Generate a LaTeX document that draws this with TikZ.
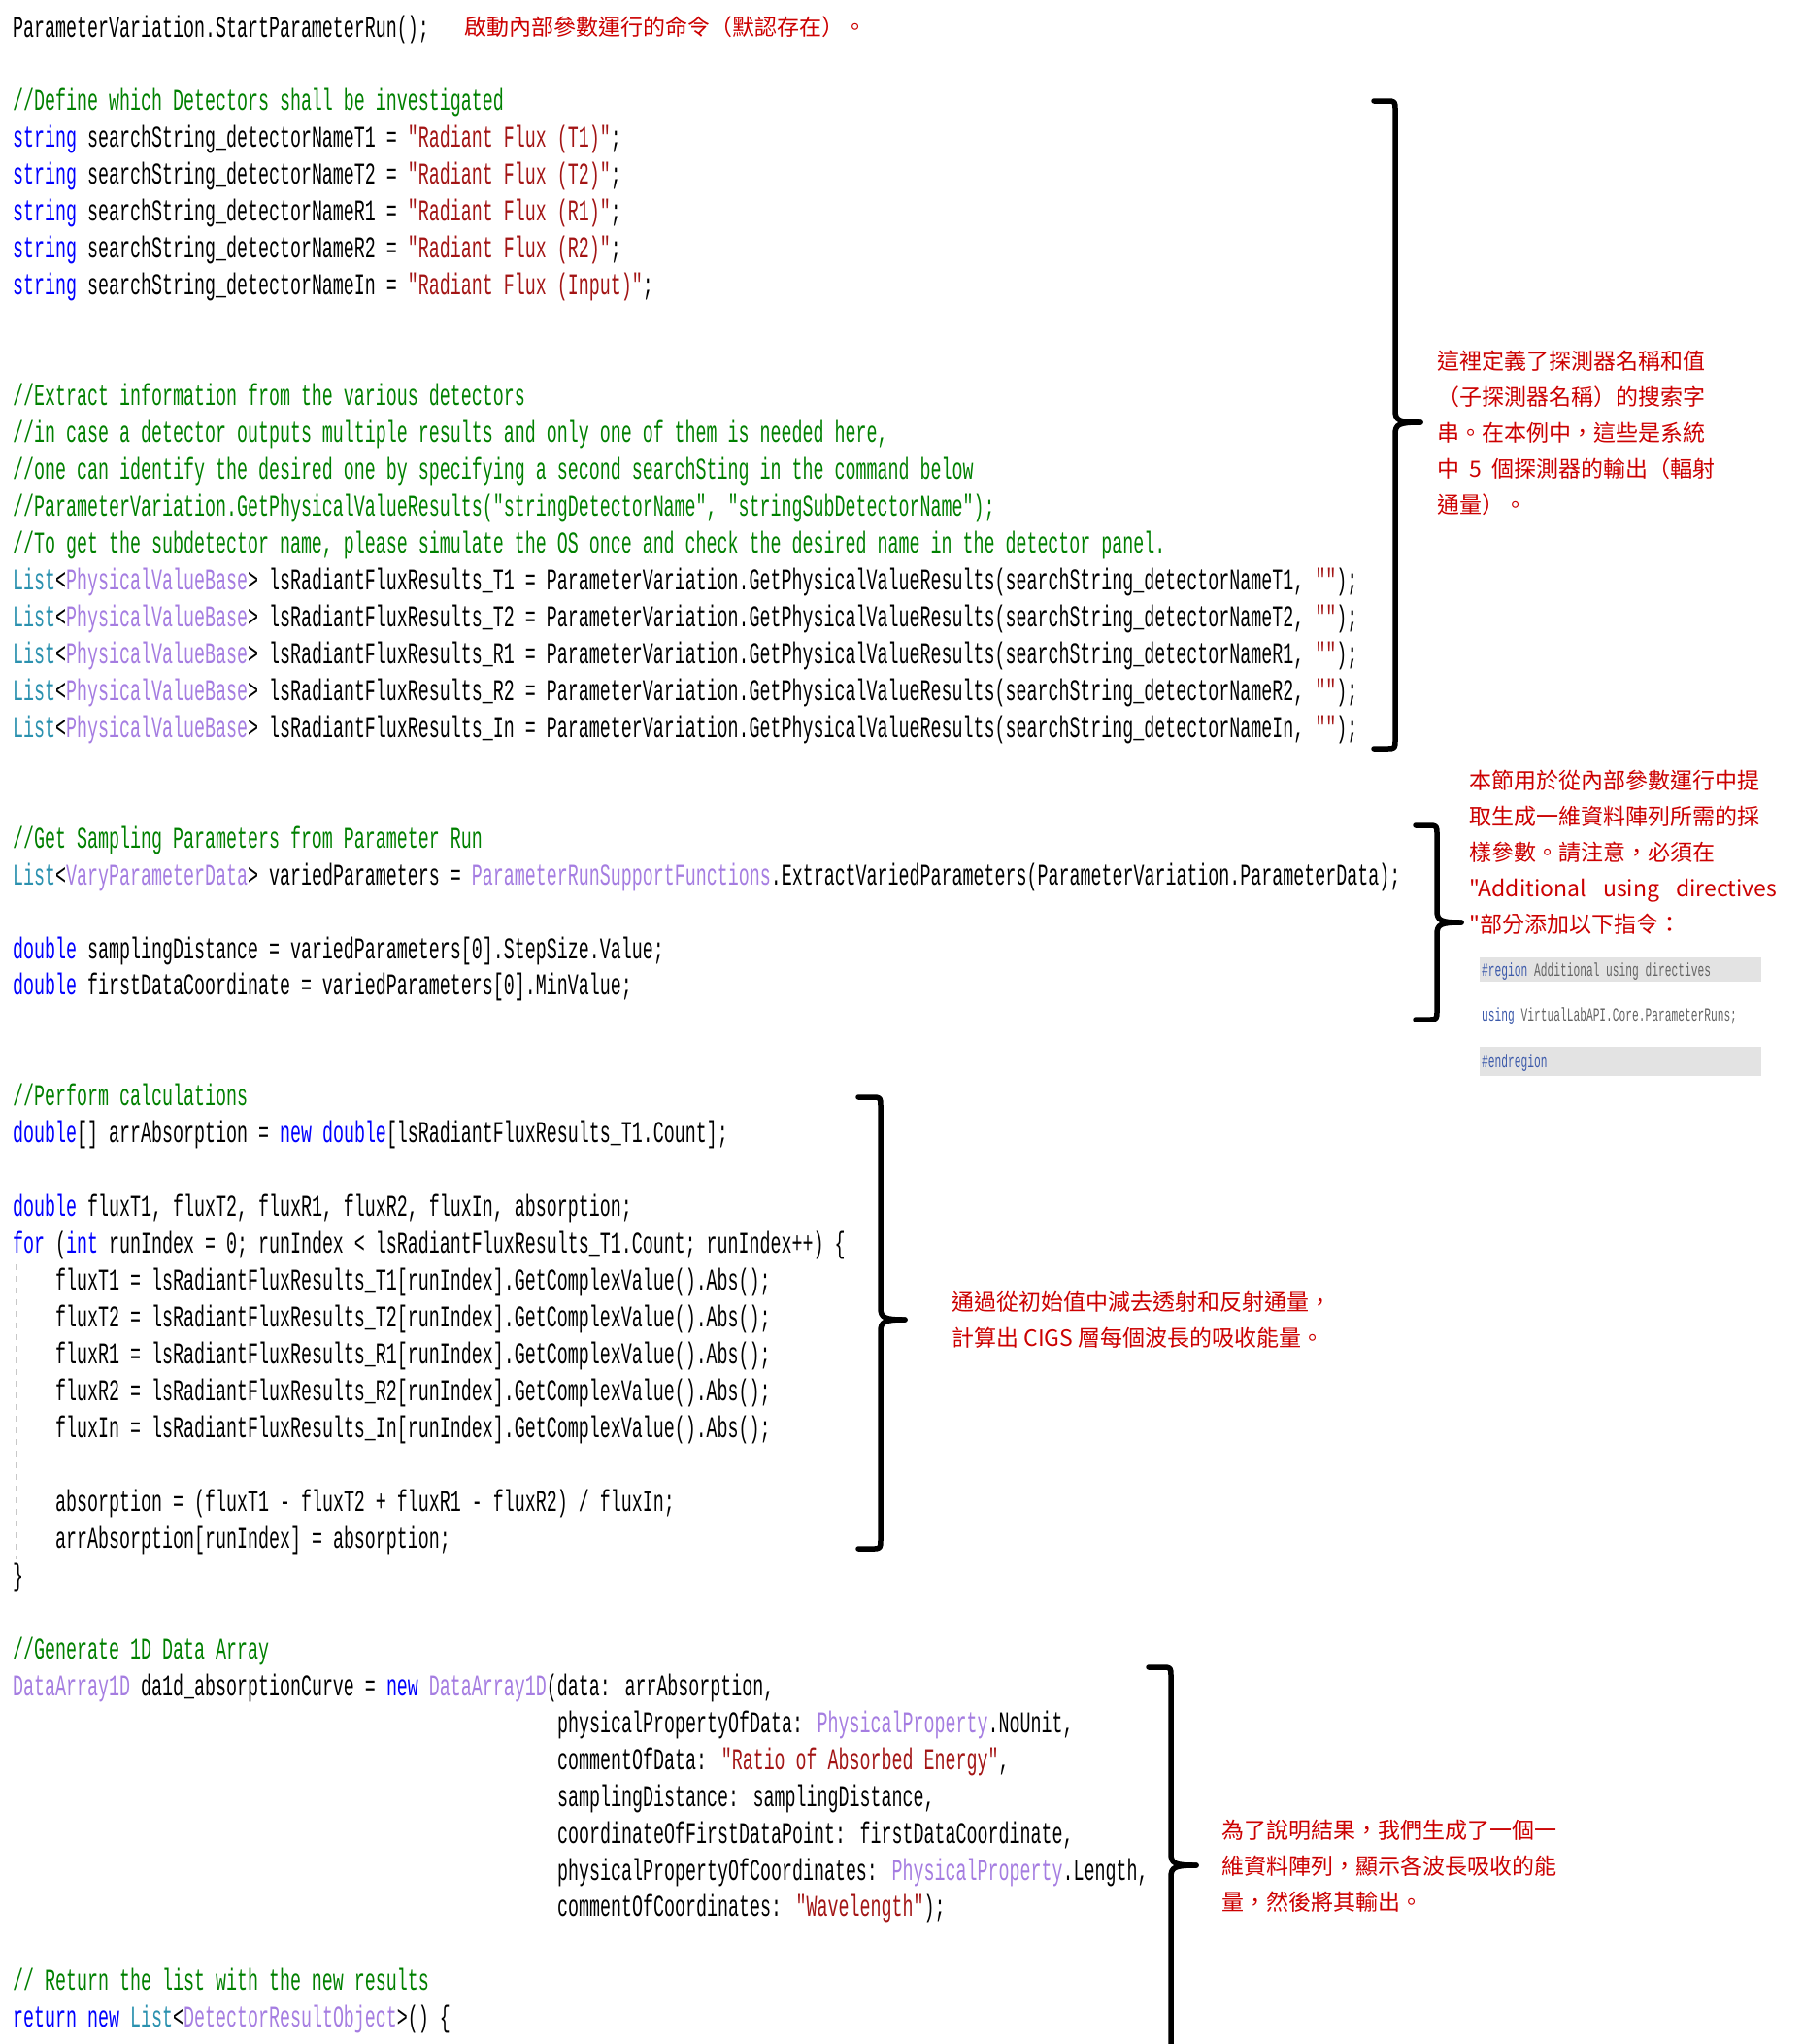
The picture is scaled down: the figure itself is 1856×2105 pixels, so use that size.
\documentclass[tikz,border=0pt]{standalone}
\usepackage{fontspec}
\newfontfamily\codefont[FakeStretch=0.591]{Liberation Mono}
\newfontfamily\cjk{Noto Sans CJK TC}
\definecolor{kwblue}{RGB}{0,0,255}
\definecolor{cmgreen}{RGB}{0,128,0}
\definecolor{strred}{RGB}{163,21,21}
\definecolor{tyteal}{RGB}{43,145,175}
\definecolor{cllav}{RGB}{165,125,225}
\definecolor{notered}{RGB}{204,0,0}
\definecolor{insetgray}{RGB}{227,227,227}
\definecolor{insetblue}{RGB}{60,90,170}
\definecolor{insettext}{RGB}{100,100,100}
\newcommand{\ckw}[1]{\textcolor{kwblue}{#1}}
\newcommand{\ccm}[1]{\textcolor{cmgreen}{#1}}
\newcommand{\cst}[1]{\textcolor{strred}{#1}}
\newcommand{\cty}[1]{\textcolor{tyteal}{#1}}
\newcommand{\ccl}[1]{\textcolor{cllav}{#1}}
\newcommand{\drawcodebrace}[6]{%
  \draw[bracepath] (#1,#3) -- ({#2-9},#3) .. controls (#2,#3) .. (#2,{#3+10})
     -- (#2,{#5-12}) .. controls (#2,{#5-2}) and ({#2+4},#5) .. (#6,#5);
  \draw[bracepath] (#6,#5) .. controls ({#2+4},#5) and (#2,{#5+2}) .. (#2,{#5+12})
     -- (#2,{#4-10}) .. controls (#2,#4) .. ({#2-9},#4) -- (#1,#4);}
\begin{document}
\begin{tikzpicture}[x=1pt,y=-1pt,
  code/.style={anchor=base west,inner sep=0pt,font=\codefont\fontsize{31}{38}\selectfont},
  cmt/.style={code,text=cmgreen},
  note/.style={anchor=base west,inner sep=0pt,text=notered,font=\cjk\fontsize{23}{30}\selectfont},
  inset/.style={anchor=base west,inner sep=0pt,font=\codefont\fontsize{19}{22}\selectfont},
  bracepath/.style={line width=5.5pt,line cap=round,line join=round,black},
  guide/.style={draw={rgb,255:red,200;green,200;blue,200},line width=1.5pt,dash pattern=on 6pt off 6pt}]
\useasboundingbox (0,0) rectangle (1856,2105);
\fill[white] (0,0) rectangle (1856,2105);

% ---- section 1
\node[code] (l0) at (13,{38}) {ParameterVariation.StartParameterRun();};
\node[note] (n0) at (478,36.7) {啟動內部參數運行的命令（默認存在）。};

\node[cmt] (l2) at (13,{38+37.96*2}) {//Define which Detectors shall be investigated};
\node[code] (l3) at (13,{38+37.96*3}) {\ckw{string} searchString\_detectorNameT1 = \cst{"Radiant Flux (T1)"};};
\node[code] (l4) at (13,{38+37.96*4}) {\ckw{string} searchString\_detectorNameT2 = \cst{"Radiant Flux (T2)"};};
\node[code] (l5) at (13,{38+37.96*5}) {\ckw{string} searchString\_detectorNameR1 = \cst{"Radiant Flux (R1)"};};
\node[code] (l6) at (13,{38+37.96*6}) {\ckw{string} searchString\_detectorNameR2 = \cst{"Radiant Flux (R2)"};};
\node[code] (l7) at (13,{38+37.96*7}) {\ckw{string} searchString\_detectorNameIn = \cst{"Radiant Flux (Input)"};};

\node[cmt] (l10) at (13,{38+37.96*10}) {//Extract information from the various detectors};
\node[cmt] (l11) at (13,{38+37.96*11}) {//in case a detector outputs multiple results and only one of them is needed here,};
\node[cmt] (l12) at (13,{38+37.96*12}) {//one can identify the desired one by specifying a second searchSting in the command below};
\node[cmt] (l13) at (13,{38+37.96*13}) {//ParameterVariation.GetPhysicalValueResults("stringDetectorName", "stringSubDetectorName");};
\node[cmt] (l14) at (13,{38+37.96*14}) {//To get the subdetector name, please simulate the OS once and check the desired name in the detector panel.};
\node[code] (l15) at (13,{38+37.96*15}) {\cty{List}<\ccl{PhysicalValueBase}> lsRadiantFluxResults\_T1 = ParameterVariation.GetPhysicalValueResults(searchString\_detectorNameT1, \cst{""});};
\node[code] (l16) at (13,{38+37.96*16}) {\cty{List}<\ccl{PhysicalValueBase}> lsRadiantFluxResults\_T2 = ParameterVariation.GetPhysicalValueResults(searchString\_detectorNameT2, \cst{""});};
\node[code] (l17) at (13,{38+37.96*17}) {\cty{List}<\ccl{PhysicalValueBase}> lsRadiantFluxResults\_R1 = ParameterVariation.GetPhysicalValueResults(searchString\_detectorNameR1, \cst{""});};
\node[code] (l18) at (13,{38+37.96*18}) {\cty{List}<\ccl{PhysicalValueBase}> lsRadiantFluxResults\_R2 = ParameterVariation.GetPhysicalValueResults(searchString\_detectorNameR2, \cst{""});};
\node[code] (l19) at (13,{38+37.96*19}) {\cty{List}<\ccl{PhysicalValueBase}> lsRadiantFluxResults\_In = ParameterVariation.GetPhysicalValueResults(searchString\_detectorNameIn, \cst{""});};

\drawcodebrace{1415}{1437}{104}{771}{435}{1463}
\node[note] (n1a) at (1480,380.7) {這裡定義了探測器名稱和值};
\node[note] (n1b) at (1480,417.7) {（子探測器名稱）的搜索字};
\node[note] (n1c) at (1480,454.7) {串。在本例中，這些是系統};
\node[note] (n1d) at (1480,491.7) {\makebox[286pt][s]{中 5 個探測器的輸出（輻射}};
\node[note] (n1e) at (1480,528.7) {通量）。};

% ---- section 2
\node[cmt] (l22) at (13,{38+37.96*22}) {//Get Sampling Parameters from Parameter Run};
\node[code] (l23) at (13,{38+37.96*23}) {\cty{List}<\ccl{VaryParameterData}> variedParameters = \ccl{ParameterRunSupportFunctions}.ExtractVariedParameters(ParameterVariation.ParameterData);};
\node[code] (l25) at (13,{38+37.96*25}) {\ckw{double} samplingDistance = variedParameters[0].StepSize.Value;};
\node[code] (l26) at (13,{38+37.96*26}) {\ckw{double} firstDataCoordinate = variedParameters[0].MinValue;};

\drawcodebrace{1458}{1480}{850}{1050}{950}{1505}
\node[note] (n2a) at (1513,812.7) {本節用於從內部參數運行中提};
\node[note] (n2b) at (1513,849.7) {取生成一維資料陣列所需的採};
\node[note] (n2c) at (1513,886.7) {樣參數。請注意，必須在};
\node[note] (n2d) at (1513,923.7) {\makebox[317pt][s]{"Additional using directives}};
\node[note] (n2e) at (1513,960.7) {"部分添加以下指令：};

\fill[insetgray] (1524,986) rectangle (1814,1011);
\fill[insetgray] (1524,1078) rectangle (1814,1108);
\node[inset] (i1) at (1526,1005) {\textcolor{insetblue}{\#region} \textcolor{insettext}{Additional using directives}};
\node[inset] (i2) at (1526,1051) {\textcolor{insetblue}{using} \textcolor{insettext}{VirtualLabAPI.Core.ParameterRuns;}};
\node[inset] (i3) at (1526,1099) {\textcolor{insetblue}{\#endregion}};

% ---- section 3
\node[cmt] (l29) at (13,{38+37.96*29}) {//Perform calculations};
\node[code] (l30) at (13,{38+37.96*30}) {\ckw{double}[] arrAbsorption = \ckw{new} \ckw{double}[lsRadiantFluxResults\_T1.Count];};
\node[code] (l32) at (13,{38+37.96*32}) {\ckw{double} fluxT1, fluxT2, fluxR1, fluxR2, fluxIn, absorption;};
\node[code] (l33) at (13,{38+37.96*33}) {\ckw{for} (\ckw{int} runIndex = 0; runIndex < lsRadiantFluxResults\_T1.Count; runIndex++) \{};
\node[code] (l34) at (57,{38+37.96*34}) {fluxT1 = lsRadiantFluxResults\_T1[runIndex].GetComplexValue().Abs();};
\node[code] (l35) at (57,{38+37.96*35}) {fluxT2 = lsRadiantFluxResults\_T2[runIndex].GetComplexValue().Abs();};
\node[code] (l36) at (57,{38+37.96*36}) {fluxR1 = lsRadiantFluxResults\_R1[runIndex].GetComplexValue().Abs();};
\node[code] (l37) at (57,{38+37.96*37}) {fluxR2 = lsRadiantFluxResults\_R2[runIndex].GetComplexValue().Abs();};
\node[code] (l38) at (57,{38+37.96*38}) {fluxIn = lsRadiantFluxResults\_In[runIndex].GetComplexValue().Abs();};
\node[code] (l40) at (57,{38+37.96*40}) {absorption = (fluxT1 - fluxT2 + fluxR1 - fluxR2) / fluxIn;};
\node[code] (l41) at (57,{38+37.96*41}) {arrAbsorption[runIndex] = absorption;};
\node[code] (l42) at (13,{38+37.96*42}) {\}};
\coordinate (g1) at (17,1302);
\coordinate (g2) at (17,1606);
\draw[guide] (g1) -- (g2);

\drawcodebrace{884}{907}{1130}{1595}{1359}{932}
\node[note] (n3a) at (980,1349.7) {通過從初始值中減去透射和反射通量，};
\node[note] (n3b) at (980,1386.7) {計算出 CIGS 層每個波長的吸收能量。};

% ---- section 4
\node[cmt] (l44) at (13,{38+37.96*44}) {//Generate 1D Data Array};
\node[code] (l45) at (13,{38+37.96*45}) {\ccl{DataArray1D} da1d\_absorptionCurve = \ckw{new} \ccl{DataArray1D}(data: arrAbsorption,};
\node[code] (l46) at (574,{38+37.96*46}) {physicalPropertyOfData: \ccl{PhysicalProperty}.NoUnit,};
\node[code] (l47) at (574,{38+37.96*47}) {commentOfData: \cst{"Ratio of Absorbed Energy"},};
\node[code] (l48) at (574,{38+37.96*48}) {samplingDistance: samplingDistance,};
\node[code] (l49) at (574,{38+37.96*49}) {coordinateOfFirstDataPoint: firstDataCoordinate,};
\node[code] (l50) at (574,{38+37.96*50}) {physicalPropertyOfCoordinates: \ccl{PhysicalProperty}.Length,};
\node[code] (l51) at (574,{38+37.96*51}) {commentOfCoordinates: \cst{"Wavelength"});};
\node[cmt] (l53) at (13,{38+37.96*53}) {// Return the list with the new results};
\node[code] (l54) at (13,{38+37.96*54}) {\ckw{return} \ckw{new} \cty{List}<\ccl{DetectorResultObject}>() \{};

\drawcodebrace{1183}{1206}{1717}{2130}{1921}{1232}
\node[note] (n4a) at (1258,1893.7) {為了說明結果，我們生成了一個一};
\node[note] (n4b) at (1258,1930.7) {維資料陣列，顯示各波長吸收的能};
\node[note] (n4c) at (1258,1967.7) {量，然後將其輸出。};
\end{tikzpicture}
\end{document}
